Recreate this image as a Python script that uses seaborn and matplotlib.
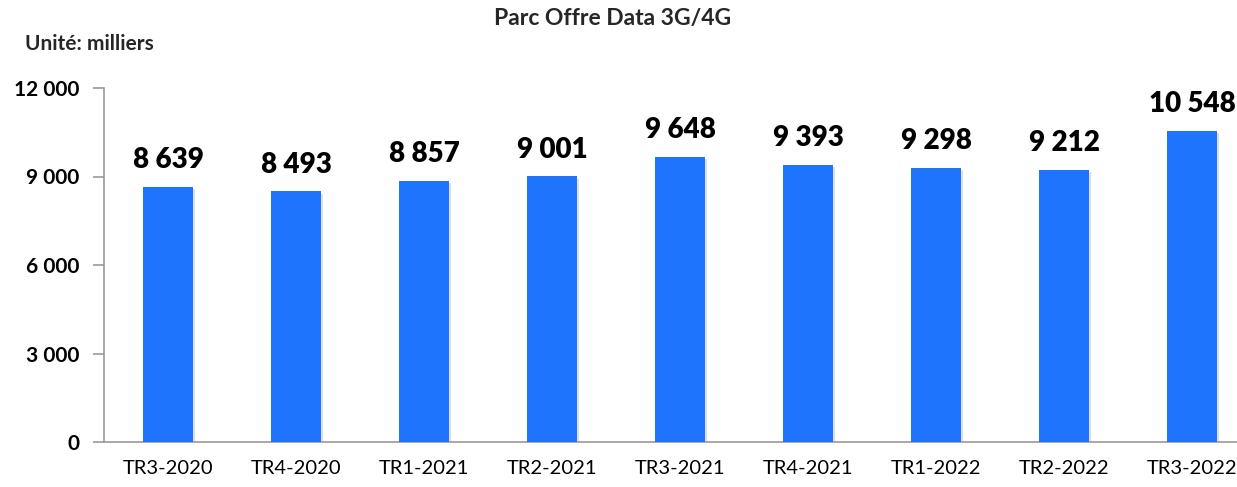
import numpy as np
import pandas as pd
import matplotlib
matplotlib.use("Agg")
import matplotlib.pyplot as plt
import matplotlib.patheffects as pe
import seaborn as sns

# Quarterly 3G/4G data subscriber base, in thousands
quarters = ["TR3-2020", "TR4-2020", "TR1-2021", "TR2-2021", "TR3-2021",
            "TR4-2021", "TR1-2022", "TR2-2022", "TR3-2022"]
subscribers = [8639, 8493, 8857, 9001, 9648, 9393, 9298, 9212, 10548]
y_ticks = [0, 3000, 6000, 9000, 12000]

title = "Parc Offre Data 3G/4G"
unit_label = "Unité: milliers"


def fmt_thousands(v):
    return f"{v:,}".replace(",", " ")


sns.set_theme(style="white")
plt.rcParams["font.family"] = ["Lato", "DejaVu Sans"]

df = pd.DataFrame({"quarter": quarters, "value": subscribers})

fig = plt.figure(figsize=(12.37, 4.87), dpi=100)
W, H = 1237, 487
ax = fig.add_axes([104 / W, (H - 442) / H, 1152 / W, 354 / H])

bar_color = "#1F74FD"
sns.barplot(data=df, x="quarter", y="value", color=bar_color, saturation=1,
            width=0.39, ax=ax, zorder=3)

shadow = [pe.SimplePatchShadow(offset=(1.5, -1.5), shadow_rgbFace="#999999", alpha=0.3),
          pe.Normal()]
for patch in ax.patches:
    patch.set_edgecolor("none")
    patch.set_path_effects(shadow)

ax.set_ylim(0, 12000)
ax.set_xlim(-0.5, len(quarters) - 0.5)
ax.set_yticks(y_ticks)
ax.set_yticklabels([fmt_thousands(v) for v in y_ticks], fontsize=15, fontweight="bold")
ax.set_xticks(range(len(quarters)))
ax.set_xticklabels(quarters, fontsize=14.5)
ax.set_xticks(np.arange(-0.5, len(quarters), 1), minor=True)

ax.tick_params(axis="x", which="major", length=0, pad=13, colors="black")
ax.tick_params(axis="x", which="minor", length=8, width=1.2, color="#999999")
ax.tick_params(axis="y", which="major", length=8, width=1.2, color="#999999",
               pad=10, left=True, labelcolor="black")

for side in ["top", "right"]:
    ax.spines[side].set_visible(False)
for side in ["left", "bottom"]:
    ax.spines[side].set_color("#999999")
    ax.spines[side].set_linewidth(1.2)

ax.set_xlabel("")
ax.set_ylabel("")
ax.grid(False)

ax.bar_label(ax.containers[0], labels=[fmt_thousands(v) for v in subscribers],
             padding=10, fontsize=20, fontweight="heavy", color="black")

fig.text(613 / W, 1 - 18 / H, title, ha="center", va="center",
         fontsize=16.5, fontweight="bold")
fig.text(25 / W, 1 - 44 / H, unit_label, ha="left", va="center",
         fontsize=15, fontweight="bold")

fig.savefig("out.png", dpi=100)
